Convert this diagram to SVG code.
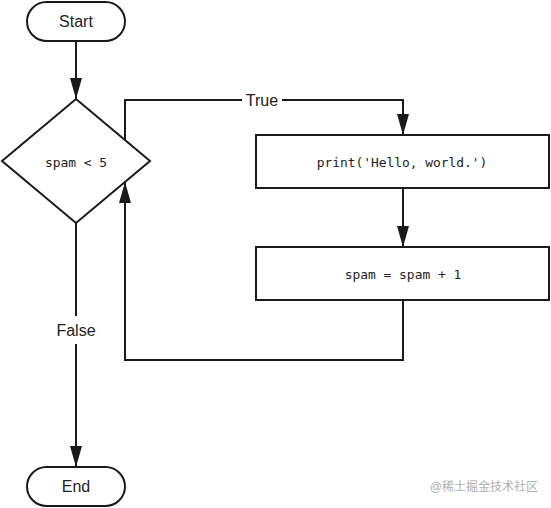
<svg xmlns="http://www.w3.org/2000/svg" width="551" height="508" viewBox="0 0 551 508">
<defs>
<style>
.shape{fill:#fff;stroke:#1a1a1a;stroke-width:2}
.edge{fill:none;stroke:#1a1a1a;stroke-width:2}
.lbl{font-family:"Liberation Sans",Arial,sans-serif;font-size:16px;fill:#222;text-anchor:middle;dominant-baseline:central}
.code{font-family:"DejaVu Sans Mono","Liberation Mono",monospace;font-size:12.9px;fill:#222;text-anchor:middle;dominant-baseline:central}
.wm{font-family:"Liberation Sans","Noto Sans CJK SC",sans-serif;font-size:12px;fill:#b0b0b0;text-anchor:end;dominant-baseline:central}
</style>
<marker id="arr" viewBox="0 0 21 12" refX="21" refY="6" markerWidth="21" markerHeight="12" markerUnits="userSpaceOnUse" orient="auto">
<path d="M0,0 L21,6 L0,12 Z" fill="#1a1a1a"/>
</marker>
</defs>
<g id="connectors">
<line class="edge" x1="76" y1="41" x2="76" y2="99" marker-end="url(#arr)"/>
<polyline class="edge" points="125,140 125,100 242,100"/>
<polyline class="edge" points="282,100 403,100 403,135" marker-end="url(#arr)"/>
<line class="edge" x1="403" y1="188" x2="403" y2="247" marker-end="url(#arr)"/>
<polyline class="edge" points="403,300 403,360 125,360 125,182" marker-end="url(#arr)"/>
<line class="edge" x1="76" y1="223" x2="76" y2="316"/>
<line class="edge" x1="76" y1="344" x2="76" y2="467" marker-end="url(#arr)"/>
<text class="lbl" x="262" y="100">True</text>
<text class="lbl" x="76" y="330">False</text>
</g>
<g id="start">
<rect class="shape" x="27" y="2" width="98" height="39" rx="19.5"/>
<text class="lbl" x="76" y="21.5">Start</text>
</g>
<g id="cond">
<polygon class="shape" points="76,99 150,161 76,223 2,161"/>
<text class="code" x="76" y="162">spam &lt; 5</text>
</g>
<g id="print">
<rect class="shape" x="256" y="135" width="293" height="53"/>
<text class="code" x="402" y="162">print('Hello, world.')</text>
</g>
<g id="incr">
<rect class="shape" x="256" y="247" width="293" height="53"/>
<text class="code" x="403" y="274">spam = spam + 1</text>
</g>
<g id="end">
<rect class="shape" x="27" y="467" width="98" height="39" rx="19.5"/>
<text class="lbl" x="76" y="486.5">End</text>
</g>
<text class="wm" x="538" y="487">@稀土掘金技术社区</text>
</svg>
